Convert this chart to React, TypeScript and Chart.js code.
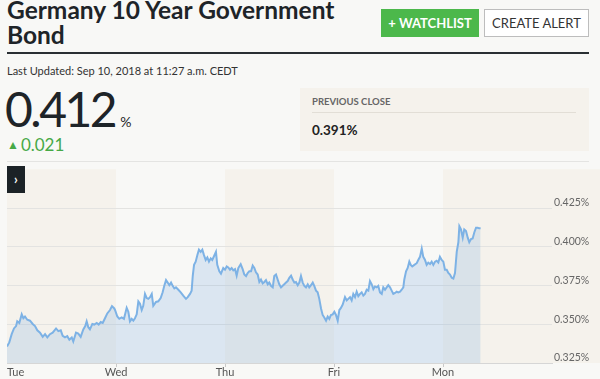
import React, { useEffect, useRef } from "react";
import { Chart, registerables } from "chart.js";

Chart.register(...registerables);

// ---- data ----
const dayLabels = ["Tue", "Wed", "Thu", "Fri", "Mon"];
const shadedDays = [0, 2, 4];
const sessionOpen = 8; // 08:00 CEDT
const sessionLength = 10; // hours per trading day shown
const yTicks = [0.325, 0.35, 0.375, 0.4, 0.425];
const yMin = 0.325;
const yMax = 0.45;

// [clock hour, yield %]
const tue: [number, number][] = [
  [8.0, 0.3356], [8.21, 0.3383], [8.43, 0.3436], [8.64, 0.3473], [8.83, 0.3488], [8.94, 0.3519],
  [9.13, 0.3508], [9.35, 0.3564], [9.5, 0.3539], [9.65, 0.355], [9.86, 0.3529], [10.11, 0.3523],
  [10.36, 0.3502], [10.57, 0.3488], [10.78, 0.3461], [11.03, 0.3446], [11.28, 0.3419], [11.49, 0.3436],
  [11.7, 0.3415], [11.94, 0.3436], [12.19, 0.3446], [12.5, 0.3473], [12.71, 0.3456], [12.93, 0.3461],
  [13.11, 0.3425], [13.32, 0.3415], [13.53, 0.3423], [13.72, 0.34], [13.94, 0.3415], [14.08, 0.3389],
  [14.33, 0.3446], [14.54, 0.344], [14.76, 0.3419], [15.0, 0.3467], [15.18, 0.3488], [15.31, 0.3519],
  [15.46, 0.3481], [15.61, 0.3467], [15.83, 0.3502], [16.01, 0.3498], [16.23, 0.3508], [16.41, 0.3498],
  [16.6, 0.3514], [16.78, 0.3508], [16.99, 0.3539], [17.2, 0.357], [17.45, 0.3592], [17.63, 0.3617],
  [17.84, 0.3602], [17.91, 0.3592],
];
const wed: [number, number][] = [
  [8.12, 0.355], [8.3, 0.3535], [8.52, 0.3544], [8.73, 0.3535], [8.98, 0.3606], [9.13, 0.3581],
  [9.28, 0.3519], [9.44, 0.3535], [9.59, 0.3523], [9.74, 0.3539], [9.9, 0.3564], [10.05, 0.3648],
  [10.2, 0.3633], [10.36, 0.3592], [10.5, 0.3619], [10.66, 0.3696], [10.82, 0.3669], [10.96, 0.3664],
  [11.12, 0.3675], [11.28, 0.3696], [11.42, 0.3619], [11.67, 0.3644], [11.88, 0.3648], [12.1, 0.3669],
  [12.28, 0.3706], [12.43, 0.3748], [12.59, 0.3785], [12.74, 0.3769], [12.89, 0.3752], [13.05, 0.3769],
  [13.2, 0.3748], [13.35, 0.3731], [13.5, 0.3738], [13.72, 0.3723], [13.94, 0.3706], [14.17, 0.3685],
  [14.42, 0.3664], [14.58, 0.3675], [14.79, 0.3696], [14.94, 0.3717], [15.04, 0.3811], [15.16, 0.3883],
  [15.31, 0.3904], [15.46, 0.3946], [15.61, 0.3981], [15.77, 0.3967], [15.92, 0.3981], [16.07, 0.3946],
  [16.23, 0.3915], [16.38, 0.3931], [16.53, 0.3904], [16.69, 0.3925], [16.83, 0.3915], [16.99, 0.3939],
  [17.17, 0.3967], [17.29, 0.3883], [17.48, 0.3842], [17.63, 0.3827], [17.84, 0.3863],
];
const thu: [number, number][] = [
  [8.0, 0.3852], [8.16, 0.3873], [8.3, 0.3867], [8.46, 0.3852], [8.61, 0.3863], [8.76, 0.3848],
  [8.92, 0.3856], [9.07, 0.3814], [9.22, 0.3863], [9.44, 0.3888], [9.62, 0.3856], [9.77, 0.3821],
  [9.93, 0.3811], [10.08, 0.3831], [10.23, 0.3842], [10.39, 0.3842], [10.54, 0.3879], [10.69, 0.3863],
  [10.84, 0.3835], [11.0, 0.3821], [11.15, 0.3773], [11.3, 0.3789], [11.46, 0.3764], [11.61, 0.3773],
  [11.76, 0.3785], [11.92, 0.3758], [12.06, 0.3769], [12.22, 0.3748], [12.38, 0.3738], [12.52, 0.3811],
  [12.68, 0.3821], [12.83, 0.3789], [12.98, 0.3758], [13.14, 0.3738], [13.29, 0.3748], [13.44, 0.3758],
  [13.6, 0.3769], [13.75, 0.3779], [13.9, 0.38], [14.06, 0.3814], [14.21, 0.3789], [14.36, 0.3769],
  [14.51, 0.3773], [14.67, 0.3752], [14.82, 0.3769], [14.97, 0.3811], [15.13, 0.3769], [15.28, 0.3748],
  [15.43, 0.3738], [15.59, 0.3758], [15.73, 0.3738], [15.89, 0.3752], [16.05, 0.3769], [16.19, 0.3748],
  [16.35, 0.3717], [16.5, 0.3706], [16.65, 0.3664], [16.81, 0.3602], [16.96, 0.356], [17.11, 0.3544],
  [17.27, 0.3523], [17.42, 0.355], [17.57, 0.3535], [17.72, 0.356], [17.88, 0.3564],
];
const fri: [number, number][] = [
  [8.03, 0.3581], [8.18, 0.356], [8.34, 0.3523], [8.49, 0.3592], [8.61, 0.3602], [8.8, 0.3627],
  [9.01, 0.3675], [9.17, 0.3654], [9.31, 0.3664], [9.47, 0.3675], [9.62, 0.3654], [9.77, 0.3696],
  [9.93, 0.3675], [10.08, 0.371], [10.23, 0.3681], [10.39, 0.3696], [10.54, 0.3706], [10.69, 0.3685],
  [10.84, 0.3696], [11.0, 0.3723], [11.15, 0.3717], [11.3, 0.3779], [11.46, 0.3758], [11.61, 0.3727],
  [11.76, 0.3744], [11.92, 0.3738], [12.06, 0.3748], [12.22, 0.3706], [12.38, 0.3696], [12.52, 0.3738],
  [12.68, 0.3723], [12.83, 0.3738], [12.98, 0.3752], [13.14, 0.3738], [13.29, 0.3717], [13.44, 0.3696],
  [13.6, 0.3702], [13.75, 0.371], [13.9, 0.3706], [14.06, 0.371], [14.21, 0.3723], [14.36, 0.3738],
  [14.45, 0.3789], [14.61, 0.3842], [14.76, 0.3863], [14.91, 0.3904], [15.04, 0.3883], [15.18, 0.3873],
  [15.37, 0.3883], [15.59, 0.3894], [15.73, 0.3915], [15.89, 0.3935], [16.05, 0.3988], [16.19, 0.3935],
  [16.35, 0.3915], [16.5, 0.3883], [16.65, 0.3898], [16.81, 0.3889], [16.96, 0.3904], [17.11, 0.3883],
  [17.27, 0.3904], [17.42, 0.391], [17.57, 0.3898], [17.72, 0.3935], [17.88, 0.3915],
];
const mon: [number, number][] = [
  [8.03, 0.3904], [8.18, 0.3852], [8.34, 0.3852], [8.49, 0.3831], [8.64, 0.3821], [8.8, 0.38],
  [8.95, 0.3795], [9.1, 0.3831], [9.26, 0.3967], [9.41, 0.4029], [9.5, 0.4133], [9.65, 0.4112],
  [9.81, 0.4059], [9.95, 0.4112], [10.11, 0.4102], [10.27, 0.4059], [10.41, 0.4029], [10.57, 0.405],
  [10.72, 0.4054], [10.87, 0.4092], [11.03, 0.4123], [11.18, 0.4123], [11.33, 0.4119], [11.45, 0.4119],
];
const days = [tue, wed, thu, fri, mon];

const BG = "#f8f8f6";
const SHADE = "#f5f2ec";
const FONT = "Lato, 'Open Sans', sans-serif";

const shadePlugin = {
  id: "dayShade",
  beforeDraw(chart: any) {
    const { ctx, chartArea, scales } = chart;
    const x = scales.x;
    ctx.save();
    ctx.fillStyle = SHADE;
    shadedDays.forEach((d) => {
      const a = x.getPixelForValue(d * sessionLength);
      const last = d === dayLabels.length - 1;
      const b = last ? chart.width : x.getPixelForValue((d + 1) * sessionLength);
      ctx.fillRect(a, chartArea.top, b - a, chartArea.bottom - chartArea.top);
    });
    ctx.restore();
  },
};

const xLabelPlugin = {
  id: "dayLabels",
  afterDraw(chart: any) {
    const { ctx, scales } = chart;
    const x = scales.x;
    ctx.save();
    ctx.font = "11px " + FONT;
    ctx.fillStyle = "#555";
    ctx.textBaseline = "middle";
    dayLabels.forEach((lab, i) => {
      const px = x.getPixelForValue(i * sessionLength);
      ctx.textAlign = i === 0 ? "left" : "center";
      ctx.fillText(lab, px, x.top + 9);
    });
    ctx.restore();
  },
};

function YieldChart() {
  const ref = useRef<HTMLCanvasElement | null>(null);
  useEffect(() => {
    let chart: Chart | null = null;
    let cancelled = false;
    const make = () => {
      if (cancelled || !ref.current) return;
      const points = days.flatMap((arr, di) =>
        arr.map(([h, v]) => ({ x: di * sessionLength + (h - sessionOpen), y: v }))
      );
      chart = new Chart(ref.current, {
        type: "line",
        data: {
          datasets: [
            {
              data: points,
              borderColor: "#7db2e5",
              borderWidth: 2,
              backgroundColor: "rgba(120,170,225,0.22)",
              fill: "start",
              pointRadius: 0,
              tension: 0,
            },
          ],
        },
        options: {
          animation: false,
          responsive: false,
          devicePixelRatio: 1,
          layout: { padding: { left: 7, top: 2, right: 0, bottom: 0 } },
          plugins: { legend: { display: false }, tooltip: { enabled: false } },
          scales: {
            x: {
              type: "linear",
              min: 0,
              max: dayLabels.length * sessionLength,
              afterBuildTicks: (s: any) => {
                s.ticks = dayLabels.map((_, i) => ({ value: i * sessionLength }));
              },
              afterFit: (s: any) => {
                s.height = 16;
              },
              ticks: { display: false },
              grid: {
                drawOnChartArea: false,
                drawTicks: true,
                tickLength: 4,
                color: (c: any) => (c.tick && c.tick.value > 0 ? "#c9c9c9" : "rgba(0,0,0,0)"),
              },
              border: { color: "#d6d6d6" },
            },
            y: {
              position: "right",
              min: yMin,
              max: yMax,
              afterBuildTicks: (s: any) => {
                s.ticks = yTicks.map((value) => ({ value }));
              },
              afterFit: (s: any) => {
                s.width = 48;
              },
              ticks: {
                padding: 2,
                labelOffset: -5,
                color: "#666",
                font: { family: FONT, size: 10.5 },
                callback: (v: any) => Number(v).toFixed(3) + "%",
              },
              grid: { color: "#e3e3e1", drawTicks: false },
              border: { display: false },
            },
          },
        },
        plugins: [shadePlugin, xLabelPlugin],
      });
    };
    const fonts: any = (document as any).fonts;
    if (fonts && fonts.load) {
      Promise.all([fonts.load("11px Lato"), fonts.load("bold 11px Lato")]).then(make, make);
    } else make();
    return () => {
      cancelled = true;
      if (chart) chart.destroy();
    };
  }, []);
  return <canvas ref={ref} width={600} height={218} style={{ position: "absolute", left: 0, top: 161 }} />;
}

export default function App() {
  const abs = (s: React.CSSProperties): React.CSSProperties => ({ position: "absolute", ...s });
  return (
    <div
      style={{
        position: "absolute",
        left: 0,
        top: 0,
        width: 600,
        height: 379,
        overflow: "hidden",
        background: BG,
        fontFamily: FONT,
        color: "#1e2428",
      }}
    >
      <div style={abs({ left: 7, top: -3, fontSize: 24.5, fontWeight: 700, lineHeight: "25px", whiteSpace: "nowrap" })}>
        Germany 10 Year Government
        <br />
        Bond
      </div>
      <div
        style={abs({
          left: 381,
          top: 9,
          width: 98,
          height: 28,
          background: "#4cb84b",
          color: "#fff",
          fontSize: 13,
          fontWeight: 700,
          lineHeight: "28px",
          textAlign: "center",
        })}
      >
        + WATCHLIST
      </div>
      <div
        style={abs({
          left: 484,
          top: 9,
          width: 103,
          height: 26,
          background: "#fff",
          border: "1px solid #bdbdbd",
          color: "#333",
          fontSize: 13,
          lineHeight: "26px",
          textAlign: "center",
        })}
      >
        CREATE ALERT
      </div>
      <div style={abs({ left: 7, top: 52, width: 582, height: 2, background: "#2a2f33" })} />
      <div style={abs({ left: 7, top: 64, fontSize: 11, color: "#333", whiteSpace: "nowrap" })}>
        Last Updated: Sep 10, 2018 at 11:27 a.m. CEDT
      </div>
      <div style={abs({ left: 5, top: 81, fontSize: 48, lineHeight: "56px", letterSpacing: -2.5, whiteSpace: "nowrap" })}>
        0.412
        <span style={{ fontSize: 14, letterSpacing: 0, marginLeft: 5 }}>%</span>
      </div>
      <div style={abs({ left: 7, top: 134, fontSize: 17, color: "#46a946", whiteSpace: "nowrap" })}>
        <span style={{ fontSize: 12, position: "relative", top: -2, marginRight: 2 }}>▲</span>0.021
      </div>
      <div style={abs({ left: 300, top: 88, width: 289, height: 63, background: SHADE })}>
        <div
          style={abs({ left: 12, top: 8, fontSize: 9.5, fontWeight: 700, color: "#666", whiteSpace: "nowrap" })}
        >
          PREVIOUS CLOSE
        </div>
        <div style={abs({ left: 12, top: 24, width: 264, height: 1, background: "#e2ded6" })} />
        <div style={abs({ left: 12, top: 34, fontSize: 13.5, fontWeight: 700, color: "#222" })}>0.391%</div>
      </div>
      <div style={abs({ left: 7, top: 161, width: 582, height: 1, background: "#e4e4e2" })} />
      <YieldChart />
      <div
        style={abs({
          left: 7,
          top: 166,
          width: 18,
          height: 27,
          background: "#1b2226",
          color: "#fff",
          fontSize: 13,
          fontWeight: 700,
          lineHeight: "26px",
          textAlign: "center",
        })}
      >
        ›
      </div>
    </div>
  );
}
